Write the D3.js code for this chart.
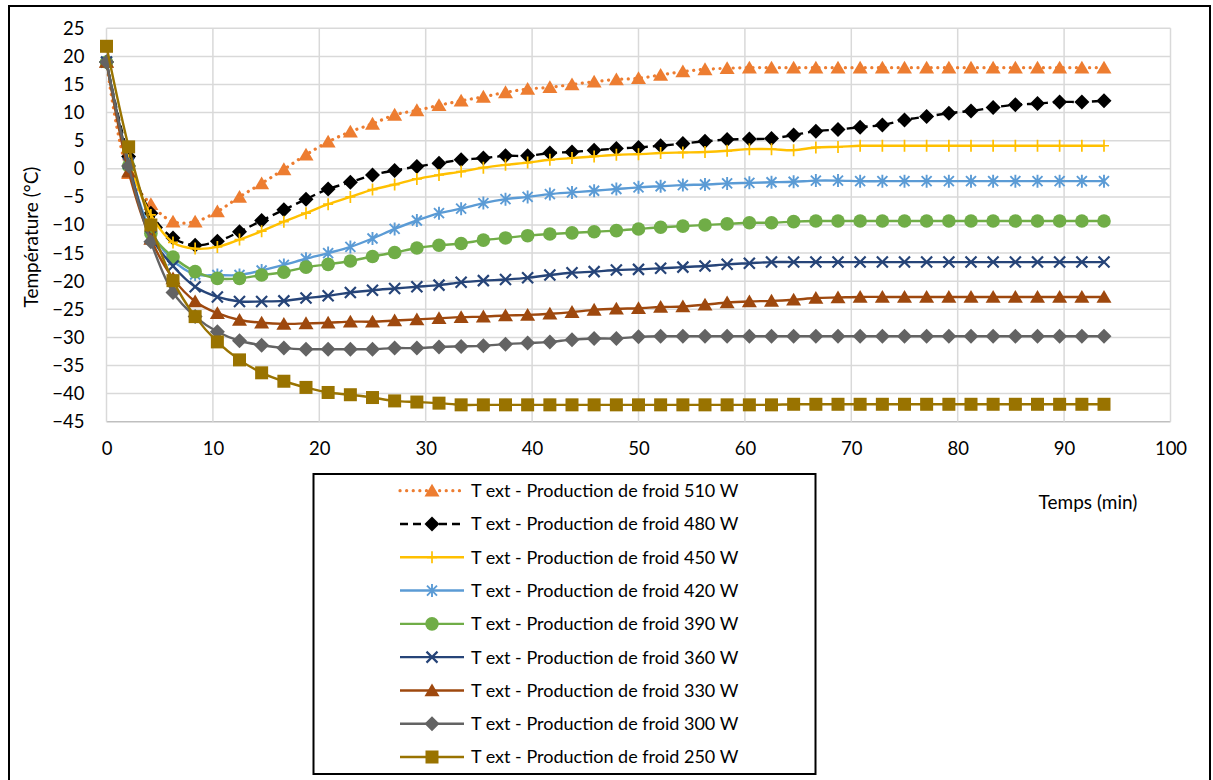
<!DOCTYPE html>
<html><head><meta charset="utf-8">
<script src="https://cdn.jsdelivr.net/npm/d3@7"></script>
<style>
body{margin:0;background:#fff}
text{font-family:Lato,"Open Sans",sans-serif;fill:#000}
</style></head>
<body><svg id="c" width="1213" height="780"></svg>
<script>
// ---- data ----
const times = [0,2.08,4.17,6.25,8.33,10.42,12.5,14.58,16.67,18.75,20.83,22.92,25,27.08,29.17,31.25,33.33,35.42,37.5,39.58,41.67,43.75,45.83,47.92,50,52.08,54.17,56.25,58.33,60.42,62.5,64.58,66.67,68.75,70.83,72.92,75,77.08,79.17,81.25,83.33,85.42,87.5,89.58,91.67,93.75];

const s510 = [19.0,-0.8,-6.3,-9.4,-9.4,-7.6,-5.0,-2.6,-0.1,2.5,4.8,6.6,8.0,9.6,10.4,11.3,12.1,12.8,13.6,14.2,14.5,15.0,15.5,15.9,16.1,16.7,17.3,17.7,17.9,18.0,18.0,18.0,18.0,18.0,18.0,18.0,18.0,18.0,18.0,18.0,18.0,18.0,18.0,18.0,18.0,18.0];
const s480 = [19.0,2.2,-7.9,-12.3,-13.6,-12.9,-11.2,-9.2,-7.3,-5.4,-3.6,-2.4,-1.1,-0.3,0.4,1.0,1.6,1.9,2.3,2.3,2.8,3.0,3.3,3.6,3.8,4.1,4.5,4.9,5.2,5.3,5.4,6.0,6.7,7.0,7.4,7.8,8.7,9.3,9.9,10.3,10.9,11.4,11.6,11.9,11.9,12.1];
const s450 = [19.0,1.5,-8.2,-13.1,-14.2,-13.9,-12.6,-11.1,-9.4,-7.9,-6.3,-5.0,-3.7,-2.8,-1.8,-1.1,-0.5,0.2,0.7,1.1,1.6,1.9,2.2,2.5,2.6,2.8,2.9,3.0,3.2,3.5,3.5,3.3,3.8,3.9,4.1,4.1,4.1,4.1,4.1,4.1,4.1,4.1,4.1,4.1,4.1,4.1];
const s420 = [19.0,0.8,-11.0,-16.3,-18.8,-18.9,-18.9,-18.1,-17.1,-16.0,-15.0,-13.9,-12.4,-10.7,-9.2,-7.9,-7.1,-6.1,-5.4,-5.0,-4.5,-4.2,-3.9,-3.6,-3.3,-3.1,-2.9,-2.8,-2.6,-2.5,-2.4,-2.3,-2.1,-2.1,-2.2,-2.2,-2.2,-2.2,-2.2,-2.2,-2.2,-2.2,-2.2,-2.2,-2.2,-2.2];
const s390 = [19.0,0.5,-11.5,-15.7,-18.3,-19.5,-19.5,-18.9,-18.4,-17.5,-17.0,-16.4,-15.6,-14.9,-14.1,-13.6,-13.3,-12.7,-12.3,-11.9,-11.6,-11.4,-11.2,-11.0,-10.7,-10.4,-10.2,-10.0,-9.8,-9.6,-9.6,-9.4,-9.3,-9.3,-9.3,-9.3,-9.3,-9.3,-9.3,-9.3,-9.3,-9.3,-9.3,-9.3,-9.3,-9.3];
const s360 = [19.0,1.0,-12.0,-17.3,-21.0,-22.8,-23.6,-23.6,-23.5,-23.0,-22.6,-22.0,-21.6,-21.3,-21.0,-20.7,-20.2,-19.9,-19.7,-19.4,-18.9,-18.5,-18.3,-18.0,-17.9,-17.7,-17.5,-17.3,-17.0,-16.8,-16.6,-16.6,-16.6,-16.6,-16.6,-16.6,-16.6,-16.6,-16.6,-16.6,-16.6,-16.6,-16.6,-16.6,-16.6,-16.6];
const s330 = [19.0,-0.5,-12.5,-19.5,-23.6,-25.7,-26.9,-27.4,-27.6,-27.5,-27.4,-27.2,-27.2,-27.0,-26.8,-26.6,-26.4,-26.3,-26.1,-26.0,-25.8,-25.5,-25.1,-24.9,-24.8,-24.6,-24.5,-24.2,-23.8,-23.6,-23.5,-23.3,-23.0,-22.9,-22.8,-22.8,-22.8,-22.8,-22.8,-22.8,-22.8,-22.8,-22.8,-22.8,-22.8,-22.8];
const s300 = [19.0,0.5,-13.0,-22.0,-26.3,-29.0,-30.6,-31.4,-31.9,-32.1,-32.1,-32.1,-32.1,-31.9,-31.9,-31.7,-31.6,-31.5,-31.2,-31.0,-30.8,-30.4,-30.2,-30.2,-29.9,-29.8,-29.8,-29.8,-29.8,-29.8,-29.8,-29.8,-29.8,-29.8,-29.8,-29.8,-29.8,-29.8,-29.8,-29.8,-29.8,-29.8,-29.8,-29.8,-29.8,-29.8];
const s250 = [21.8,3.9,-10.0,-19.9,-26.3,-30.8,-34.0,-36.3,-37.8,-38.9,-39.8,-40.2,-40.7,-41.3,-41.5,-41.7,-42.0,-42.0,-42.0,-42.0,-42.0,-42.0,-42.0,-42.0,-42.0,-42.0,-42.0,-42.0,-42.0,-42.0,-42.0,-41.9,-41.9,-41.9,-41.9,-41.9,-41.9,-41.9,-41.9,-41.9,-41.9,-41.9,-41.9,-41.9,-41.9,-41.9];

const seriesNames = ["T ext - Production de froid 510 W","T ext - Production de froid 480 W","T ext - Production de froid 450 W","T ext - Production de froid 420 W","T ext - Production de froid 390 W","T ext - Production de froid 360 W","T ext - Production de froid 330 W","T ext - Production de froid 300 W","T ext - Production de froid 250 W"];
const seriesValues = [s510,s480,s450,s420,s390,s360,s330,s300,s250];
const seriesColors = ["#ED7D31","#000000","#FFC000","#5B9BD5","#70AD47","#264478","#9E480E","#636363","#997300"];
const seriesMarkers = ["triangle","diamond","plus","star","circle","x","triangle","diamond","square"];
const seriesDash = ["dot","dash","solid","solid","solid","solid","solid","solid","solid"];

const xTicks = [0,10,20,30,40,50,60,70,80,90,100];
const yTicks = [25,20,15,10,5,0,-5,-10,-15,-20,-25,-30,-35,-40,-45];
const xTitle = "Temps (min)";
const yTitle = "Température (°C)";

// ---- drawing ----
const svg = d3.select("#c");
svg.append("rect").attr("x",9).attr("y",6).attr("width",1201).attr("height",800)
  .attr("fill","#fff").attr("stroke","#000").attr("stroke-width",2);

const x = d3.scaleLinear().domain([0,100]).range([106.5,1170.5]);
const y = d3.scaleLinear().domain([-45,25]).range([421.7,28.3]);

const grid = svg.append("g");
grid.selectAll("line.h").data(yTicks).join("line")
  .attr("x1",x(0)).attr("x2",x(100)).attr("y1",d=>y(d)).attr("y2",d=>y(d))
  .attr("stroke",d=>d===-45?"#bfbfbf":"#d9d9d9").attr("stroke-width",1.5);
grid.selectAll("line.v").data(xTicks).join("line")
  .attr("y1",y(-45)).attr("y2",y(25)).attr("x1",d=>x(d)).attr("x2",d=>x(d))
  .attr("stroke","#d9d9d9").attr("stroke-width",1.5);

const yAxis = svg.append("g").attr("transform",`translate(${x(0)},0)`)
  .call(d3.axisLeft(y).tickValues(yTicks).tickSize(0).tickPadding(22));
yAxis.select(".domain").remove();
yAxis.selectAll("text").style("font-size","18.5px").style("font-family","Lato").style("fill","#000");

const xAxis = svg.append("g").attr("transform",`translate(0,${y(-45)})`)
  .call(d3.axisBottom(x).tickValues(xTicks).tickSize(0).tickPadding(20));
xAxis.select(".domain").remove();
xAxis.selectAll("text").style("font-size","18.5px").style("font-family","Lato").style("fill","#000");

svg.append("text").attr("transform","translate(38,237) rotate(-90)")
  .attr("text-anchor","middle").style("font-size","19px").text(yTitle);
svg.append("text").attr("x",1088).attr("y",509).attr("text-anchor","middle")
  .style("font-size","19px").text(xTitle);

function dashArr(d){ return d==="dot" ? "0.1 6.5" : d==="dash" ? "8 5" : null; }

function drawMarker(g, type, color, px, py){
  const m = g.append("g").attr("transform",`translate(${px},${py})`);
  if(type==="triangle"){
    m.append("path").attr("d","M0,-7L7.5,5.8L-7.5,5.8Z").attr("fill",color);
  } else if(type==="diamond"){
    m.append("path").attr("d","M0,-7.5L7.5,0L0,7.5L-7.5,0Z").attr("fill",color);
  } else if(type==="square"){
    m.append("rect").attr("x",-6.5).attr("y",-6.5).attr("width",13).attr("height",13).attr("fill",color);
  } else if(type==="circle"){
    m.append("circle").attr("r",6.8).attr("fill",color);
  } else if(type==="plus"){
    m.append("path").attr("d","M0,-6V6M-5,0H5").attr("stroke",color).attr("stroke-width",1.7).attr("fill","none");
  } else if(type==="star"){
    m.append("path").attr("d","M-5,-5L5,5M-5,5L5,-5M0,-6.5V6.5").attr("stroke",color).attr("stroke-width",1.9).attr("fill","none");
  } else if(type==="x"){
    m.append("path").attr("d","M-5.5,-5.5L5.5,5.5M-5.5,5.5L5.5,-5.5").attr("stroke",color).attr("stroke-width",2.2).attr("fill","none");
  }
}

const line = d3.line().x(d=>x(d[0])).y(d=>y(d[1])).curve(d3.curveCatmullRom.alpha(0.5));
const plot = svg.append("g");
seriesValues.forEach((vals,k)=>{
  const pts = times.map((t,i)=>[t,vals[i]]);
  const g = plot.append("g");
  g.append("path").attr("d",line(pts)).attr("fill","none")
    .attr("stroke",seriesColors[k]).attr("stroke-width",seriesDash[k]==="dot"?3.2:2.4)
    .attr("stroke-linecap",seriesDash[k]==="dot"?"round":"butt")
    .attr("stroke-dasharray",dashArr(seriesDash[k]));
  pts.forEach(p=>drawMarker(g,seriesMarkers[k],seriesColors[k],x(p[0]),y(p[1])));
});

// legend
const lg = svg.append("g");
lg.append("rect").attr("x",313.5).attr("y",474).attr("width",502).attr("height",300)
  .attr("fill","#fff").attr("stroke","#000").attr("stroke-width",2);
const rowY = d3.scaleLinear().domain([0,8]).range([490.7,757]);
seriesNames.forEach((nm,k)=>{
  const ry = rowY(k);
  lg.append("line").attr("x1",400).attr("x2",464).attr("y1",ry).attr("y2",ry)
    .attr("stroke",seriesColors[k]).attr("stroke-width",seriesDash[k]==="dot"?3.2:2.4)
    .attr("stroke-linecap",seriesDash[k]==="dot"?"round":"butt")
    .attr("stroke-dasharray",dashArr(seriesDash[k]));
  drawMarker(lg,seriesMarkers[k],seriesColors[k],432,ry);
  lg.append("text").attr("x",471).attr("y",ry).attr("dy","0.36em")
    .style("font-size","18px").text(nm);
});
</script></body></html>
